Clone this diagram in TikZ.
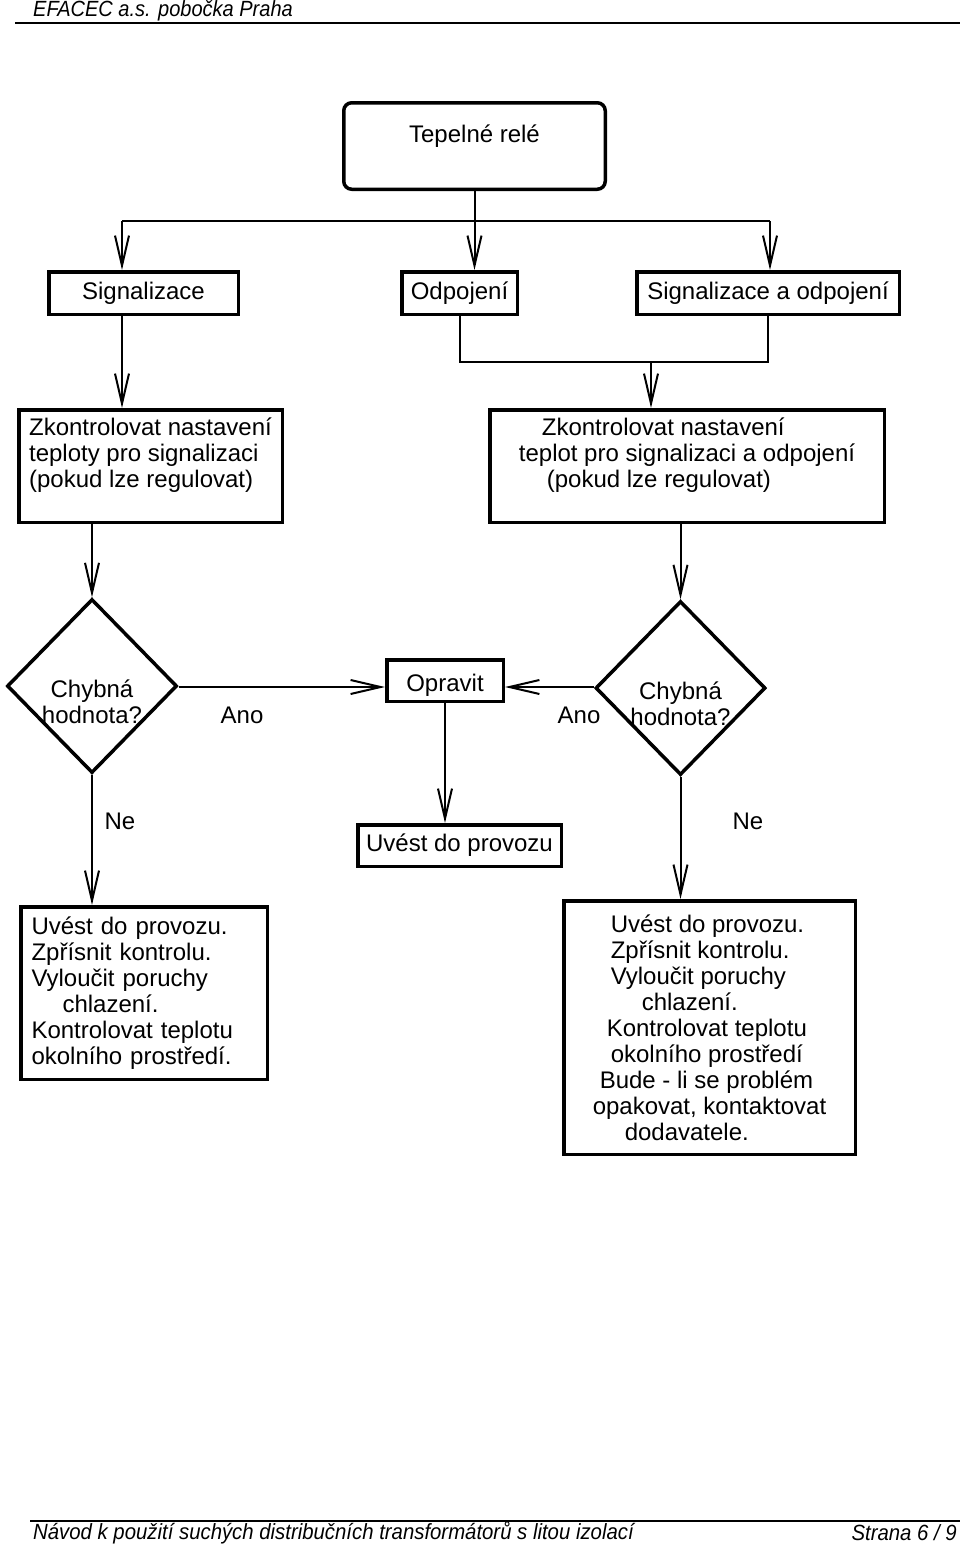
\documentclass[tikz,border=0pt]{standalone}
\usepackage{fontspec}
\setmainfont{Liberation Sans}
\usetikzlibrary{arrows.meta, positioning, shapes.geometric}

\begin{document}
\begin{tikzpicture}[x=1pt, y=-1pt,
	box/.style={draw, line width=3.5pt, inner sep=0pt, font=\fontsize{24}{26}\selectfont, align=center},
	decision/.style={diamond, draw, line width=3.5pt, inner sep=0pt, minimum width=170pt, minimum height=174pt},
	lbl/.style={font=\fontsize{24}{26}\selectfont},
	page/.style={font=\fontsize{22}{24}\selectfont\itshape, inner sep=0pt},
	arr/.style={-{Straight Barb[length=30pt, width=14pt]}, line width=2pt},
	ln/.style={line width=2pt}]
	\useasboundingbox (0,0) rectangle (960,1548);
	% header and footer
	\node[page, anchor=west] (head) at (33,11) {\scalebox{0.91}[1]{EFACEC a.s. pobočka Praha}};
	\draw[line width=2.5pt] (15,23) -- (960,23);
	\draw[line width=2pt] (30,1521) -- (960,1521);
	\node[page, anchor=west] (foot) at (33,1533) {\scalebox{0.925}[1]{Návod k použití suchých distribučních transformátorů s litou izolací}};
	\node[page, anchor=east] (num) at (957,1533) {\scalebox{0.925}[1]{Strana 6 / 9}};
	% boxes
	\node[box, rounded corners=8pt, text depth=25pt, minimum width=261.5pt, minimum height=86.5pt] (top) at (474.5,146) {Tepelné relé};
	\node[box, minimum width=189.5pt, minimum height=42.5pt] (sig) at (143.5,293) {Signalizace};
	\node[box, minimum width=115.5pt, minimum height=42.5pt] (odp) at (459.5,293) {Odpojení};
	\node[box, minimum width=262.5pt, minimum height=42.5pt] (obe) at (768,293) {Signalizace a odpojení};
	\node[box, align=left, minimum width=263.5pt, minimum height=112.5pt] (chkl) at (150.5,466) {Zkontrolovat nastavení\\teploty pro signalizaci\\(pokud lze regulovat)\\~};
	\node[box, align=left, minimum width=394.5pt, minimum height=112.5pt] (chkr) at (687,466) {\hspace*{23pt}Zkontrolovat nastavení\\teplot pro signalizaci a odpojení\\\hspace*{28pt}(pokud lze regulovat)\\~};
	\node[decision, label={[lbl, align=center, yshift=-16pt]center:Chybná\\hodnota?}] (dl) at (92,686) {};
	\node[decision, label={[lbl, align=center, yshift=-16pt]center:Chybná\\hodnota?}] (dr) at (680.5,688) {};
	\node[box, text height=26pt, minimum width=116.5pt, minimum height=41.5pt] (opr) at (445,680.5) {Opravit};
	\node[box, minimum width=203.5pt, minimum height=41.5pt] (uvest) at (459.5,845.5) {Uvést do provozu};
	\node[box, align=left, text width=225pt, minimum width=246.5pt, minimum height=172.5pt] (fixl) at (144,993) {Uvést do provozu.\\Zpřísnit kontrolu.\\Vyloučit poruchy\\\hspace*{31pt}chlazení.\\Kontrolovat teplotu\\okolního prostředí.};
	\node[box, align=left, minimum width=291.5pt, minimum height=253.5pt] (fixr) at (709.5,1027.5) {\hspace*{18pt}Uvést do provozu.\\\hspace*{18pt}Zpřísnit kontrolu.\\\hspace*{18pt}Vyloučit poruchy\\\hspace*{49pt}chlazení.\\\hspace*{14pt}Kontrolovat teplotu\\\hspace*{18pt}okolního prostředí\\\hspace*{7pt}Bude - li se problém\\opakovat, kontaktovat\\\hspace*{32pt}dodavatele.};
	% labels
	\node[lbl] (anol) at (242,715) {Ano};
	\node[lbl] (anor) at (579,715) {Ano};
	\node[lbl] (nel) at (120,821) {Ne};
	\node[lbl] (ner) at (748,821) {Ne};
	% connectors
	\coordinate (jl) at (122,221);
	\coordinate (jr) at (770,221);
	\coordinate (jm) at (651,362);
	\coordinate (jo) at (0,687);
	\draw[ln] (jl) -- (jr);
	\draw[ln] (odp.south) -- (odp.south |- jm) -- (obe.south |- jm) -- (obe.south);
	\draw
	(top.south) edge[arr] (top.south |- odp.north)
	(jl) edge[arr] (jl |- sig.north)
	(jr) edge[arr] (jr |- obe.north)
	(jl |- sig.south) edge[arr] (jl |- chkl.north)
	(jm) edge[arr] (jm |- chkr.north)
	(dl.north |- chkl.south) edge[arr] (dl.north)
	(dr.north |- chkr.south) edge[arr] (dr.north)
	(dl.east |- jo) edge[arr] (opr.west |- jo)
	(dr.west |- jo) edge[arr] (opr.east |- jo)
	(opr.south) edge[arr] (opr.south |- uvest.north)
	(dl.south) edge[arr] (dl.south |- fixl.north)
	(dr.south) edge[arr] (dr.south |- fixr.north);
\end{tikzpicture}
\end{document}
